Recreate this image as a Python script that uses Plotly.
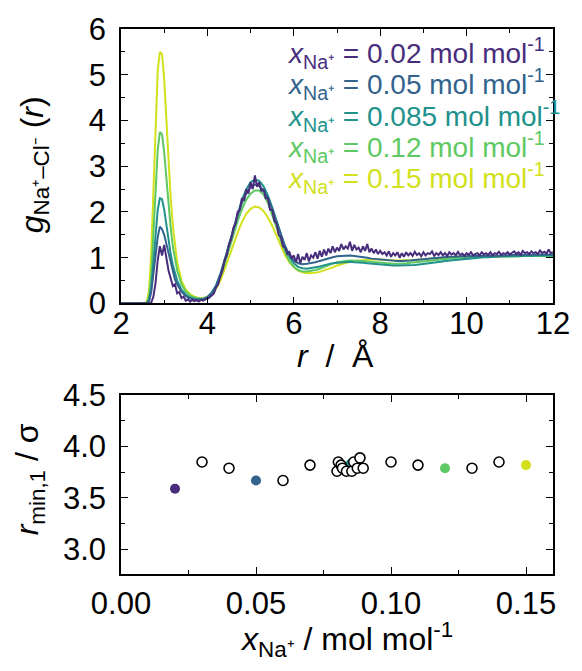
import plotly.graph_objects as go

# ---------------- data: radial distribution functions ----------------
r_grid = [2.0, 2.5, 2.55, 2.6, 2.65, 2.7, 2.75, 2.8, 2.85, 2.9, 2.95, 3.0, 3.05, 3.1, 3.15,
          3.2, 3.25, 3.3] + [round(3.4 + 0.1 * i, 2) for i in range(87)]

g_015 = [0, 0, 0.0, 0.05, 0.3, 1.1, 2.6, 4.1, 5.1, 5.5, 5.45, 4.9, 4.0, 3.1, 2.3, 1.7, 1.25, 0.9,
         0.5, 0.3, 0.2, 0.15, 0.12, 0.12, 0.14, 0.2, 0.32, 0.5, 0.75, 1.0, 1.28, 1.55, 1.78, 1.96,
         2.07, 2.12, 2.1, 2.02, 1.88, 1.7, 1.48, 1.25, 1.05, 0.9, 0.79, 0.72, 0.68, 0.66, 0.66,
         0.67, 0.69, 0.72, 0.75, 0.79, 0.83, 0.86, 0.89, 0.91, 0.93, 0.94, 0.95, 0.96, 0.96, 0.96,
         0.96, 0.95, 0.95, 0.94, 0.94, 0.94, 0.94, 0.94, 0.95, 0.96, 0.97, 0.98, 0.98, 0.99, 0.99,
         1.0, 1.0, 1.0, 1.01, 1.01, 1.01, 1.01, 1.01, 1.02, 1.02, 1.02, 1.02, 1.02, 1.03, 1.03,
         1.03, 1.03, 1.03, 1.04, 1.04, 1.04, 1.04, 1.04, 1.05, 1.05, 1.05]

g_012 = [0, 0, 0.0, 0.02, 0.15, 0.6, 1.5, 2.55, 3.35, 3.75, 3.7, 3.3, 2.75, 2.15, 1.65, 1.25,
         0.95, 0.72, 0.42, 0.26, 0.17, 0.13, 0.11, 0.11, 0.14, 0.22, 0.36, 0.58, 0.87, 1.18, 1.5,
         1.8, 2.06, 2.27, 2.4, 2.47, 2.47, 2.38, 2.2, 1.95, 1.66, 1.38, 1.12, 0.93, 0.8, 0.73, 0.7,
         0.7, 0.71, 0.73, 0.76, 0.8, 0.84, 0.87, 0.9, 0.92, 0.93, 0.94, 0.94, 0.94, 0.93, 0.92,
         0.91, 0.9, 0.89, 0.88, 0.87, 0.87, 0.87, 0.87, 0.88, 0.89, 0.9, 0.92, 0.93, 0.94, 0.95,
         0.96, 0.97, 0.98, 0.99, 0.99, 1.0, 1.0, 1.01, 1.01, 1.01, 1.02, 1.02, 1.02, 1.02, 1.03,
         1.03, 1.03, 1.03, 1.03, 1.03, 1.04, 1.04, 1.04, 1.04, 1.04, 1.04, 1.04, 1.04]

g_0085 = [0, 0, 0.0, 0.01, 0.08, 0.35, 0.9, 1.55, 2.05, 2.3, 2.28, 2.05, 1.72, 1.38, 1.08, 0.84,
          0.65, 0.5, 0.3, 0.19, 0.13, 0.1, 0.09, 0.1, 0.14, 0.24, 0.4, 0.65, 0.96, 1.3, 1.65,
          1.98, 2.27, 2.5, 2.65, 2.71, 2.68, 2.56, 2.36, 2.1, 1.8, 1.5, 1.23, 1.02, 0.88, 0.8,
          0.77, 0.76, 0.77, 0.79, 0.81, 0.84, 0.86, 0.88, 0.89, 0.9, 0.91, 0.91, 0.9, 0.9, 0.89,
          0.88, 0.87, 0.86, 0.85, 0.84, 0.84, 0.83, 0.83, 0.83, 0.83, 0.84, 0.84, 0.85, 0.86,
          0.87, 0.88, 0.9, 0.91, 0.93, 0.94, 0.95, 0.96, 0.97, 0.98, 0.99, 1.0, 1.0, 1.01, 1.01,
          1.02, 1.02, 1.03, 1.03, 1.03, 1.04, 1.04, 1.04, 1.05, 1.04, 1.05, 1.05, 1.05, 1.05, 1.05]

g_005 = [0, 0, 0.0, 0.0, 0.05, 0.25, 0.65, 1.1, 1.45, 1.68, 1.62, 1.5, 1.3, 1.08, 0.86, 0.68,
         0.52, 0.42, 0.26, 0.16, 0.11, 0.09, 0.08, 0.09, 0.13, 0.22, 0.38, 0.62, 0.93, 1.26, 1.6,
         1.92, 2.2, 2.4, 2.55, 2.6, 2.57, 2.47, 2.3, 2.06, 1.78, 1.5, 1.25, 1.06, 0.94, 0.88,
         0.86, 0.87, 0.88, 0.9, 0.93, 0.96, 0.99, 1.01, 1.03, 1.04, 1.05, 1.05, 1.04, 1.03, 1.02,
         1.0, 0.98, 0.97, 0.96, 0.95, 0.94, 0.94, 0.93, 0.93, 0.93, 0.94, 0.95, 0.96, 0.97, 0.98,
         0.99, 0.99, 1.0, 1.01, 1.02, 1.02, 1.03, 1.03, 1.03, 1.04, 1.04, 1.04, 1.04, 1.05, 1.05,
         1.05, 1.05, 1.05, 1.06, 1.06, 1.06, 1.06, 1.06, 1.07, 1.07, 1.07, 1.07, 1.07, 1.07]

r_fine = [2.0] + [round(2.5 + 0.05 * i, 2) for i in range(191)]
g_002 = [0,
         0, 0, 0, 0, 0.02, 0.15, 0.45, 0.95, 1.25, 1.05,
         1.28, 0.95, 0.72, 0.55, 0.38, 0.42, 0.22, 0.25, 0.12, 0.15,
         0.06, 0.09, 0.04, 0.08, 0.05, 0.07, 0.04, 0.08, 0.06, 0.09,
         0.1, 0.13, 0.18, 0.22, 0.35, 0.42, 0.6, 0.72, 0.95, 1.05,
         1.3, 1.4, 1.65, 1.75, 2.0, 2.05, 2.3, 2.25, 2.5, 2.4,
         2.65, 2.5, 2.8, 2.55, 2.65, 2.45, 2.5, 2.3, 2.3, 2.05,
         2.05, 1.8, 1.75, 1.5, 1.45, 1.25, 1.22, 1.08, 1.12, 0.98,
         1.05, 0.9, 1.08, 0.88, 1.02, 0.95, 1.1, 0.92, 1.05, 1.0,
         1.12, 0.98, 1.15, 1.02, 1.18, 1.05, 1.2, 1.1, 1.25, 1.12,
         1.22, 1.15, 1.3, 1.18, 1.25, 1.2, 1.35, 1.15, 1.28, 1.18,
         1.22, 1.12, 1.25, 1.15, 1.3, 1.12, 1.2, 1.1, 1.18, 1.08,
         1.15, 1.08, 1.12, 1.05, 1.14, 1.02, 1.1, 1.05, 1.12, 1.0,
         1.1, 1.02, 1.12, 1.05, 1.1, 1.04, 1.13, 1.06, 1.1, 1.03,
         1.12, 1.05, 1.1, 1.08, 1.14, 1.04, 1.1, 1.06, 1.12, 1.05,
         1.1, 1.04, 1.12, 1.07, 1.1, 1.05, 1.13, 1.06, 1.09, 1.04,
         1.1, 1.06, 1.12, 1.05, 1.08, 1.1, 1.05, 1.12, 1.07, 1.1,
         1.06, 1.12, 1.05, 1.1, 1.08, 1.13, 1.06, 1.1, 1.08, 1.12,
         1.07, 1.1, 1.14, 1.08, 1.12, 1.06, 1.15, 1.1, 1.12, 1.08,
         1.14, 1.1, 1.12, 1.08, 1.16, 1.1, 1.13, 1.09, 1.18, 1.1,
         1.12]

series_labels = ["0.02", "0.05", "0.085", "0.12", "0.15"]
series_colors = ["#472d7b", "#33638d", "#21918c", "#5ec962", "#d2e11b"]

# ---------------- data: first-minimum positions ----------------
x_filled = [0.02, 0.05, 0.085, 0.12, 0.15]
rmin_filled = [3.59, 3.67, 3.83, 3.79, 3.82]
x_open = [0.03, 0.04, 0.06, 0.07, 0.080, 0.0805, 0.0815, 0.082, 0.0835, 0.0855, 0.0862,
          0.0875, 0.0885, 0.0897, 0.10, 0.11, 0.13, 0.14]
rmin_open = [3.85, 3.79, 3.67, 3.82, 3.76, 3.85, 3.82, 3.79, 3.76, 3.76, 3.85,
             3.79, 3.89, 3.79, 3.85, 3.82, 3.79, 3.85]

FONT = "Liberation Sans, Arial, sans-serif"
TICK = 31
TITLE = 32
fig = go.Figure()

curves = [(r_fine, g_002), (r_grid, g_005), (r_grid, g_0085), (r_grid, g_012), (r_grid, g_015)]
for idx in [4, 3, 2, 1, 0]:
    rx, gy = curves[idx]
    fig.add_trace(go.Scatter(x=rx, y=gy, mode="lines", line=dict(color=series_colors[idx], width=2),
                             xaxis="x", yaxis="y", showlegend=False))

fig.add_trace(go.Scatter(x=x_filled, y=rmin_filled, mode="markers", xaxis="x2", yaxis="y2",
                         marker=dict(size=10, color=series_colors, line=dict(width=0)),
                         showlegend=False))
fig.add_trace(go.Scatter(x=x_open, y=rmin_open, mode="markers", xaxis="x2", yaxis="y2",
                         marker=dict(size=10, color="white", line=dict(width=1.6, color="black")),
                         showlegend=False))

axis_common = dict(showline=True, linecolor="black", linewidth=1.5, mirror="allticks",
                   ticks="inside", ticklen=7, tickwidth=1.3, tickcolor="black",
                   showgrid=False, zeroline=False,
                   tickfont=dict(family=FONT, size=TICK, color="black"))
minor_common = dict(ticklen=4, ticks="inside", tickcolor="black", tickwidth=1.2)

fig.update_layout(
    width=582, height=671,
    margin=dict(l=121, r=19, t=22, b=97),
    plot_bgcolor="white", paper_bgcolor="white",
    font=dict(family=FONT, color="black"),
    xaxis=dict(axis_common, domain=[0, 1], anchor="y", range=[2, 12], dtick=2, tick0=2,
               minor=dict(minor_common, dtick=1), ticklabelstandoff=-8),
    yaxis=dict(axis_common, domain=[0.4964, 1], anchor="x", range=[0, 6], dtick=1,
               minor=dict(minor_common, dtick=0.5), ticklabelstandoff=7),
    xaxis2=dict(axis_common, domain=[0, 1], anchor="y2", range=[0, 0.16], dtick=0.05, tick0=0,
                tickformat=".2f", minor=dict(minor_common, dtick=0.025), ticklabelstandoff=1),
    yaxis2=dict(axis_common, domain=[0, 0.328], anchor="x2", range=[2.76, 4.5], dtick=0.5,
                tick0=3.0, tickformat=".1f", minor=dict(minor_common, dtick=0.25),
                ticklabelstandoff=7),
)

annotations = []
# legend-like colored labels
legend_y = [46, 78, 110, 142, 173]
for lab, col, py in zip(series_labels, series_colors, legend_y):
    annotations.append(dict(
        xref="paper", yref="paper", x=(289 - 121) / 442, y=(574 - py) / 552,
        xanchor="left", yanchor="middle", showarrow=False,
        text=f"<i>x</i><sub>Na⁺</sub> = {lab} mol mol<sup>-1</sup>",
        font=dict(family=FONT, size=28, color=col)))

# axis titles
annotations.append(dict(xref="paper", yref="paper", x=0.497, y=(574 - 353) / 552,
                        xanchor="center", yanchor="middle", showarrow=False,
                        text="<i>r</i>  /  Å", font=dict(family=FONT, size=TITLE)))
annotations.append(dict(xref="paper", yref="paper", x=(32 - 121) / 442, y=(574 - 160) / 552,
                        xanchor="center", yanchor="middle", showarrow=False, textangle=-90,
                        text="<i>g</i><sub>Na⁺–Cl⁻</sub> (<i>r</i>)", font=dict(family=FONT, size=TITLE)))
annotations.append(dict(xref="paper", yref="paper", x=(27 - 121) / 442, y=(574 - 478) / 552,
                        xanchor="center", yanchor="middle", showarrow=False, textangle=-90,
                        text="<i>r</i><sub>min,1</sub> / σ", font=dict(family=FONT, size=TITLE)))
annotations.append(dict(xref="paper", yref="paper", x=(352 - 121) / 442, y=(574 - 640) / 552,
                        xanchor="center", yanchor="middle", showarrow=False,
                        text="<i>x</i><sub>Na⁺</sub> / mol mol<sup>-1</sup>",
                        font=dict(family=FONT, size=TITLE)))
fig.update_layout(annotations=annotations)

fig.write_html("out.html")
